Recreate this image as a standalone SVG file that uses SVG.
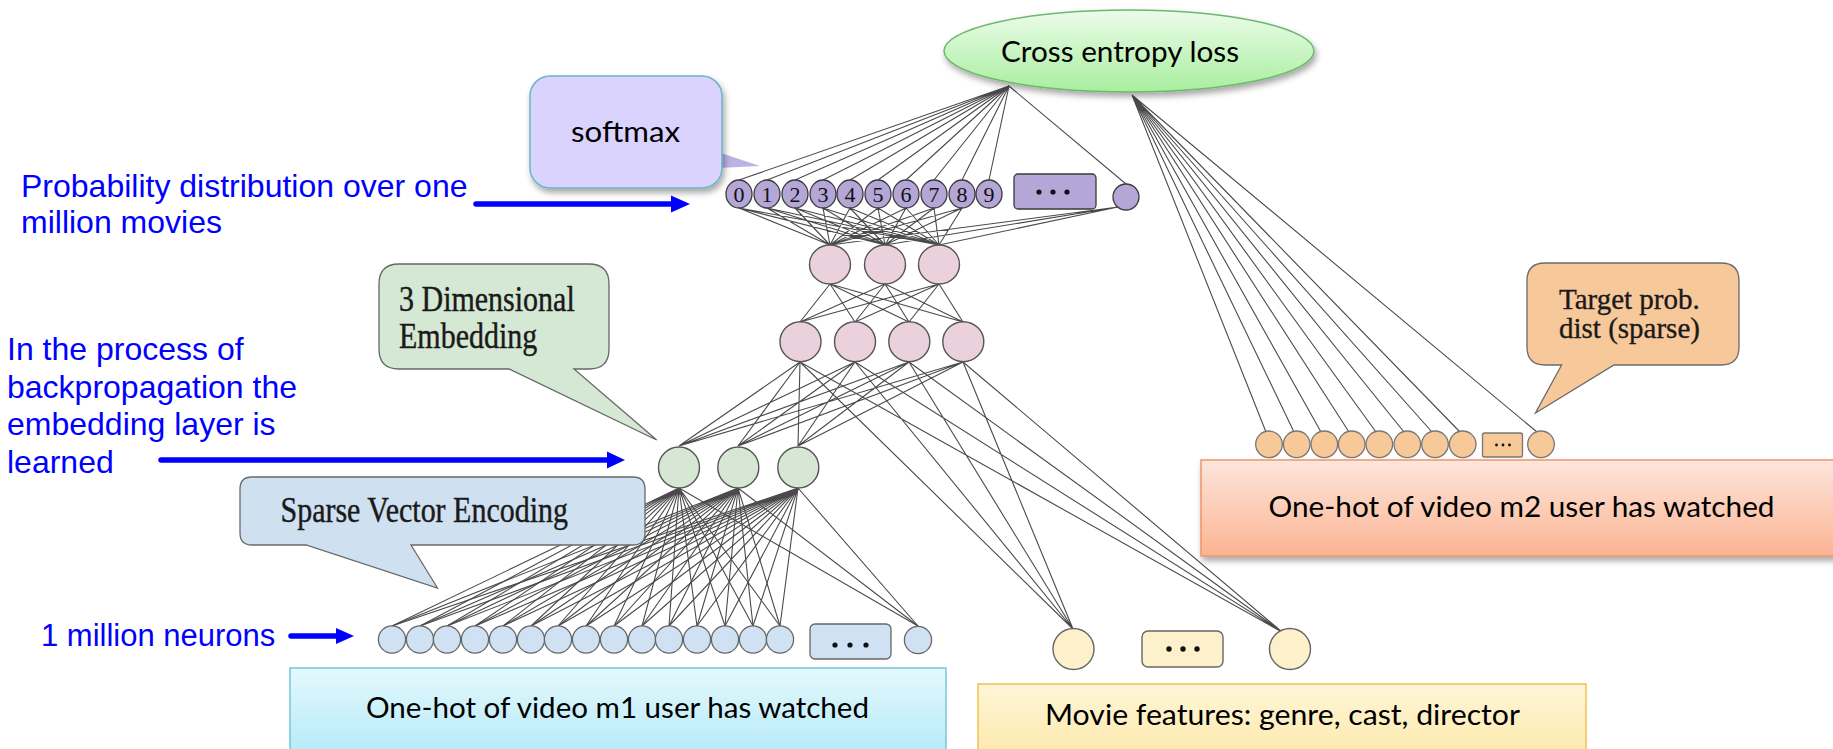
<svg xmlns="http://www.w3.org/2000/svg" width="1833" height="749" viewBox="0 0 1833 749">
<defs>
<style>
.ln{stroke:#4a4a4a;stroke-width:1.1;fill:none}
.pu{fill:#b4a7d8;stroke:#3a3a3a;stroke-width:1.3}
.pk{fill:#ead1dc;stroke:#555;stroke-width:1.4}
.gr{fill:#d6e8d3;stroke:#555;stroke-width:1.4}
.bl{fill:#cfe1f3;stroke:#666;stroke-width:1.3}
.ye{fill:#fdf1cb;stroke:#666;stroke-width:1.4}
.or{fill:#f7c898;stroke:#777;stroke-width:1.3}
.dig{font-family:"Liberation Serif","Times New Roman",serif;font-size:22px;fill:#111;text-anchor:middle}
.blue{font-family:"Liberation Sans",Arial,sans-serif;font-size:32px;fill:#0000ff}
.cal{font-family:Lato,"Open Sans",sans-serif;font-size:29px;fill:#000}
.ser{font-family:"Liberation Serif","Times New Roman",serif;font-size:30px;fill:#1a1a1a;stroke:#1a1a1a;stroke-width:0.35}
.arr{stroke:#0000ff;stroke-width:5.5;stroke-linecap:round;fill:none}
.dot{fill:#111}
</style>
<linearGradient id="gEll" x1="0" y1="0" x2="0" y2="1"><stop offset="0" stop-color="#ecfcea"/><stop offset="1" stop-color="#a8ee9e"/></linearGradient>
<linearGradient id="gOr" x1="0" y1="0" x2="0" y2="1"><stop offset="0" stop-color="#fde6dc"/><stop offset="1" stop-color="#fbb492"/></linearGradient>
<linearGradient id="gBl" x1="0" y1="0" x2="0" y2="1"><stop offset="0" stop-color="#e4f9fd"/><stop offset="1" stop-color="#aee7f7"/></linearGradient>
<linearGradient id="gYe" x1="0" y1="0" x2="0" y2="1"><stop offset="0" stop-color="#fff6d8"/><stop offset="1" stop-color="#fde6a2"/></linearGradient>
<filter id="sh" x="-10%" y="-20%" width="130%" height="160%"><feDropShadow dx="2" dy="4" stdDeviation="3" flood-color="#000" flood-opacity="0.35"/></filter>
</defs>
<rect width="1833" height="749" fill="#fff"/>

<g id="connectors">
<path class="ln" d="M1009 86L739 180M1009 86L767 180M1009 86L795 180M1009 86L823 180M1009 86L850 180M1009 86L878 180M1009 86L906 180M1009 86L934 180M1009 86L962 180M1009 86L989 180M1009 86L1126 184"/>
<path class="ln" d="M739 208L830 245M739 208L885 245M739 208L939 245M767 208L830 245M767 208L885 245M767 208L939 245M795 208L830 245M795 208L885 245M795 208L939 245M823 208L830 245M823 208L885 245M823 208L939 245M850 208L830 245M850 208L885 245M850 208L939 245M878 208L830 245M878 208L885 245M878 208L939 245M906 208L830 245M906 208L885 245M906 208L939 245M934 208L830 245M934 208L885 245M934 208L939 245M962 208L830 245M962 208L885 245M962 208L939 245M1118 207L830 245M1118 207L885 245M1118 207L939 245"/>
<path class="ln" d="M830 284L800 322M830 284L855 322M830 284L909 322M830 284L963 322M885 284L800 322M885 284L855 322M885 284L909 322M885 284L963 322M939 284L800 322M939 284L855 322M939 284L909 322M939 284L963 322"/>
<path class="ln" d="M800 362L679 446M800 362L738 446M800 362L798 446M855 362L679 446M855 362L738 446M855 362L798 446M909 362L679 446M909 362L738 446M909 362L798 446M963 362L679 446M963 362L738 446M963 362L798 446"/>
<path class="ln" d="M800 362L1073 629M855 362L1073 629M909 362L1073 629M963 362L1073 629M800 362L1282 632M855 362L1282 632M909 362L1282 632M963 362L1282 632"/>
<path class="ln" d="M679 488L392 626M679 488L420 626M679 488L447 626M679 488L475 626M679 488L503 626M679 488L531 626M679 488L558 626M679 488L586 626M679 488L614 626M679 488L642 626M679 488L669 626M679 488L697 626M679 488L725 626M679 488L753 626M679 488L780 626M679 488L918 626"/>
<path class="ln" d="M738 488L392 626M738 488L420 626M738 488L447 626M738 488L475 626M738 488L503 626M738 488L531 626M738 488L558 626M738 488L586 626M738 488L614 626M738 488L642 626M738 488L669 626M738 488L697 626M738 488L725 626M738 488L753 626M738 488L780 626M738 488L918 626"/>
<path class="ln" d="M798 488L392 626M798 488L420 626M798 488L447 626M798 488L475 626M798 488L503 626M798 488L531 626M798 488L558 626M798 488L586 626M798 488L614 626M798 488L642 626M798 488L669 626M798 488L697 626M798 488L725 626M798 488L753 626M798 488L780 626M798 488L918 626"/>
<path class="ln" d="M1132 95L1266 432M1132 95L1294 432M1132 95L1321 432M1132 95L1349 432M1132 95L1376 432M1132 95L1404 432M1132 95L1432 432M1132 95L1460 432M1132 95L1537 432"/>
</g>

<g id="cross-entropy">
<ellipse cx="1129" cy="51" rx="185" ry="41" fill="url(#gEll)" stroke="#6cb86c" stroke-width="1.5" filter="url(#sh)"/>
<text class="cal" x="1001" y="62" textLength="238" lengthAdjust="spacingAndGlyphs">Cross entropy loss</text>
</g>

<g id="softmax-callout">
<polygon points="718,152 760,166 718,168" fill="#bdb2e6"/>
<rect x="530" y="76" width="192" height="112" rx="20" fill="#d9d3fd" stroke="#6cb4c8" stroke-width="1.5" filter="url(#sh)"/>
<text class="cal" x="571" y="142" textLength="109" lengthAdjust="spacingAndGlyphs">softmax</text>
</g>

<g id="label-prob">
<text class="blue" x="21" y="197">Probability distribution over one</text>
<text class="blue" x="21" y="233">million movies</text>
<path class="arr" d="M476 204H673"/>
<polygon points="671,195.5 690,204 671,212.5" fill="#0000ff"/>
</g>

<g id="p0"><ellipse class="pu" cx="739" cy="194" rx="13" ry="14"/><text class="dig" x="739" y="202">0</text></g>
<g id="p1"><ellipse class="pu" cx="767" cy="194" rx="13" ry="14"/><text class="dig" x="767" y="202">1</text></g>
<g id="p2"><ellipse class="pu" cx="795" cy="194" rx="13" ry="14"/><text class="dig" x="795" y="202">2</text></g>
<g id="p3"><ellipse class="pu" cx="823" cy="194" rx="13" ry="14"/><text class="dig" x="823" y="202">3</text></g>
<g id="p4"><ellipse class="pu" cx="850" cy="194" rx="13" ry="14"/><text class="dig" x="850" y="202">4</text></g>
<g id="p5"><ellipse class="pu" cx="878" cy="194" rx="13" ry="14"/><text class="dig" x="878" y="202">5</text></g>
<g id="p6"><ellipse class="pu" cx="906" cy="194" rx="13" ry="14"/><text class="dig" x="906" y="202">6</text></g>
<g id="p7"><ellipse class="pu" cx="934" cy="194" rx="13" ry="14"/><text class="dig" x="934" y="202">7</text></g>
<g id="p8"><ellipse class="pu" cx="962" cy="194" rx="13" ry="14"/><text class="dig" x="962" y="202">8</text></g>
<g id="p9"><ellipse class="pu" cx="989" cy="194" rx="13" ry="14"/><text class="dig" x="989" y="202">9</text></g>
<g id="p-dots"><rect class="pu" x="1014" y="174" width="82" height="35" rx="4"/><circle class="dot" cx="1039" cy="192" r="2.6"/><circle class="dot" cx="1053" cy="192" r="2.6"/><circle class="dot" cx="1067" cy="192" r="2.6"/></g>
<g id="p-last"><ellipse class="pu" cx="1126" cy="197" rx="13" ry="13"/></g>

<g id="h1a"><ellipse class="pk" cx="830" cy="264.5" rx="20.5" ry="19.5"/></g>
<g id="h1b"><ellipse class="pk" cx="885" cy="264.5" rx="20.5" ry="19.5"/></g>
<g id="h1c"><ellipse class="pk" cx="939" cy="264.5" rx="20.5" ry="19.5"/></g>
<g id="h2a"><ellipse class="pk" cx="800.5" cy="341.7" rx="20.5" ry="20"/></g>
<g id="h2b"><ellipse class="pk" cx="855" cy="341.7" rx="20.5" ry="20"/></g>
<g id="h2c"><ellipse class="pk" cx="909.3" cy="341.7" rx="20.5" ry="20"/></g>
<g id="h2d"><ellipse class="pk" cx="963.3" cy="341.7" rx="20.5" ry="20"/></g>

<g id="e1"><ellipse class="gr" cx="679" cy="467.5" rx="20.5" ry="20.5"/></g>
<g id="e2"><ellipse class="gr" cx="738.3" cy="467.5" rx="20.5" ry="20.5"/></g>
<g id="e3"><ellipse class="gr" cx="798.3" cy="467.5" rx="20.5" ry="20.5"/></g>

<g id="embed-callout">
<path d="M399 264H589Q609 264 609 284V349Q609 369 589 369H574L656.7 440L509 369H399Q379 369 379 349V284Q379 264 399 264Z" fill="#d5e8d4" stroke="#666" stroke-width="1.3"/>
<text class="ser" transform="translate(399 311) scale(1 1.22)">3 Dimensional</text>
<text class="ser" transform="translate(399 348) scale(1 1.22)">Embedding</text>
</g>

<g id="label-backprop">
<text class="blue" x="7" y="360">In the process of</text>
<text class="blue" x="7" y="397.5">backpropagation the</text>
<text class="blue" x="7" y="435">embedding layer is</text>
<text class="blue" x="7" y="472.5">learned</text>
<path class="arr" d="M161 460H609"/>
<polygon points="607,451.5 625,460 607,468.5" fill="#0000ff"/>
</g>

<g id="sparse-callout">
<path d="M252 477H633Q645 477 645 489V533Q645 545 633 545H411L437.5 588L306 545H252Q240 545 240 533V489Q240 477 252 477Z" fill="#cfe0f1" stroke="#6a6a6a" stroke-width="1.3"/>
<text class="ser" transform="translate(280.5 522) scale(1 1.17)">Sparse Vector Encoding</text>
</g>

<g id="label-neurons">
<text class="blue" x="41" y="646" style="font-size:31px">1 million neurons</text>
<path class="arr" d="M291 636H338"/>
<polygon points="336,628 354,636 336,644" fill="#0000ff"/>
</g>

<g id="b0"><circle class="bl" cx="392" cy="639.5" r="13.6"/></g>
<g id="b1"><circle class="bl" cx="420" cy="639.5" r="13.6"/></g>
<g id="b2"><circle class="bl" cx="447" cy="639.5" r="13.6"/></g>
<g id="b3"><circle class="bl" cx="475" cy="639.5" r="13.6"/></g>
<g id="b4"><circle class="bl" cx="503" cy="639.5" r="13.6"/></g>
<g id="b5"><circle class="bl" cx="531" cy="639.5" r="13.6"/></g>
<g id="b6"><circle class="bl" cx="558" cy="639.5" r="13.6"/></g>
<g id="b7"><circle class="bl" cx="586" cy="639.5" r="13.6"/></g>
<g id="b8"><circle class="bl" cx="614" cy="639.5" r="13.6"/></g>
<g id="b9"><circle class="bl" cx="642" cy="639.5" r="13.6"/></g>
<g id="b10"><circle class="bl" cx="669" cy="639.5" r="13.6"/></g>
<g id="b11"><circle class="bl" cx="697" cy="639.5" r="13.6"/></g>
<g id="b12"><circle class="bl" cx="725" cy="639.5" r="13.6"/></g>
<g id="b13"><circle class="bl" cx="753" cy="639.5" r="13.6"/></g>
<g id="b14"><circle class="bl" cx="780" cy="639.5" r="13.6"/></g>
<g id="b-dots"><rect class="bl" x="810" y="624" width="81" height="35" rx="5"/><circle class="dot" cx="835" cy="645" r="2.6"/><circle class="dot" cx="850" cy="645" r="2.6"/><circle class="dot" cx="866" cy="645" r="2.6"/></g>
<g id="b-last"><circle class="bl" cx="918" cy="640" r="13.6"/></g>

<g id="m1-box">
<rect x="290" y="668" width="656" height="100" fill="url(#gBl)" stroke="#78c6d8" stroke-width="1.5"/>
<text class="cal" x="366" y="718" textLength="503" lengthAdjust="spacingAndGlyphs">One-hot of video m1 user has watched</text>
</g>

<g id="y1"><ellipse class="ye" cx="1073.5" cy="649" rx="20.5" ry="20.5"/></g>
<g id="y-dots"><rect class="ye" x="1142" y="631" width="81" height="36" rx="6"/><circle class="dot" cx="1169" cy="649" r="2.7"/><circle class="dot" cx="1183" cy="649" r="2.7"/><circle class="dot" cx="1197" cy="649" r="2.7"/></g>
<g id="y2"><ellipse class="ye" cx="1290" cy="649" rx="20.5" ry="20.5"/></g>

<g id="features-box">
<rect x="978" y="684" width="608" height="90" fill="url(#gYe)" stroke="#f2c14e" stroke-width="1.5"/>
<text class="cal" x="1045" y="725" textLength="475" lengthAdjust="spacingAndGlyphs">Movie features: genre, cast, director</text>
</g>

<g id="target-callout">
<path d="M1545 263H1721Q1739 263 1739 281V347Q1739 365 1721 365H1614L1535.5 413L1561.6 365H1545Q1527 365 1527 347V281Q1527 263 1545 263Z" fill="#f7c89a" stroke="#6a6a6a" stroke-width="1.3"/>
<text class="ser" x="1559" y="309" style="font-size:29px">Target prob.</text>
<text class="ser" x="1559" y="338" style="font-size:29px">dist (sparse)</text>
</g>

<g id="m2-box">
<rect x="1201" y="460" width="640" height="96" fill="url(#gOr)" stroke="#ef946a" stroke-width="1.5" filter="url(#sh)"/>
<text class="cal" x="1268.5" y="517" textLength="506" lengthAdjust="spacingAndGlyphs">One-hot of video m2 user has watched</text>
</g>

<g id="o0"><circle class="or" cx="1269" cy="444.3" r="13.3"/></g>
<g id="o1"><circle class="or" cx="1296.7" cy="444.3" r="13.3"/></g>
<g id="o2"><circle class="or" cx="1324.3" cy="444.3" r="13.3"/></g>
<g id="o3"><circle class="or" cx="1351.7" cy="444.3" r="13.3"/></g>
<g id="o4"><circle class="or" cx="1379.3" cy="444.3" r="13.3"/></g>
<g id="o5"><circle class="or" cx="1407.3" cy="444.3" r="13.3"/></g>
<g id="o6"><circle class="or" cx="1435" cy="444.3" r="13.3"/></g>
<g id="o7"><circle class="or" cx="1462.7" cy="444.3" r="13.3"/></g>
<g id="o-dots"><rect class="or" x="1482.5" y="433" width="40" height="24" rx="2"/><circle class="dot" cx="1496.5" cy="445" r="1.4"/><circle class="dot" cx="1503" cy="445" r="1.4"/><circle class="dot" cx="1509.5" cy="445" r="1.4"/></g>
<g id="o-last"><circle class="or" cx="1541" cy="444.3" r="13.3"/></g>
</svg>
